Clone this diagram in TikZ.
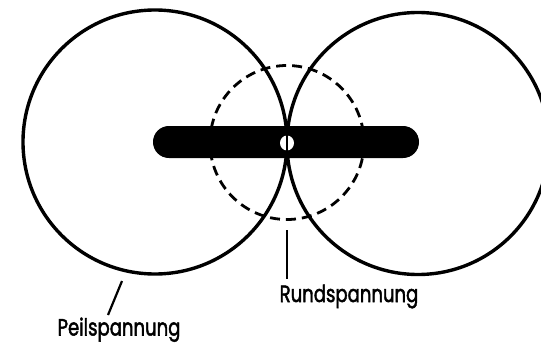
\documentclass[tikz,border=0pt]{standalone}
\usepackage{fontspec}
\setmainfont{Poppins}
\font\lblfnt="Poppins:embolden=2.2" at 21pt
\tikzset{
  ring/.style={draw=black, line width=3.4pt},
  dashring/.style={draw=black, line width=2.8pt, dash pattern=on 10pt off 6pt},
  leader/.style={draw=black, line width=2.2pt},
  lbl/.style={font=\lblfnt, inner sep=0pt}
}
\begin{document}
\begin{tikzpicture}[x=1pt,y=-1pt]
\useasboundingbox (0,0) rectangle (541,345);
\coordinate (lc) at (155,142);
\coordinate (rc) at (418,143.5);
\coordinate (mc) at (287,142.5);
\draw[ring] (lc) circle[radius=132];
\draw[ring] (rc) circle[radius=131];
\draw[dashring] (mc) circle[radius=77];
\fill[black, rounded corners=15.9pt] (153,126) rectangle (419,158);
\fill[white] (287,143) ellipse[x radius=7, y radius=7.5];
\draw[black, line width=2.6pt] (287,134) -- (287,152);
\node[lbl, anchor=base] (peil) at (119,335.5) {\scalebox{0.86}[1.12]{Peilspannung}};
\node[lbl, anchor=base] (rund) at (349,302) {\scalebox{0.86}[1.12]{Rundspannung}};
\coordinate (pa) at (122,281);
\coordinate (pb) at (108,315);
\draw[leader] (pa) -- (pb);
\coordinate (ra) at (287,230);
\coordinate (rb) at (287,279);
\draw[leader] (ra) -- (rb);
\end{tikzpicture}
\end{document}
